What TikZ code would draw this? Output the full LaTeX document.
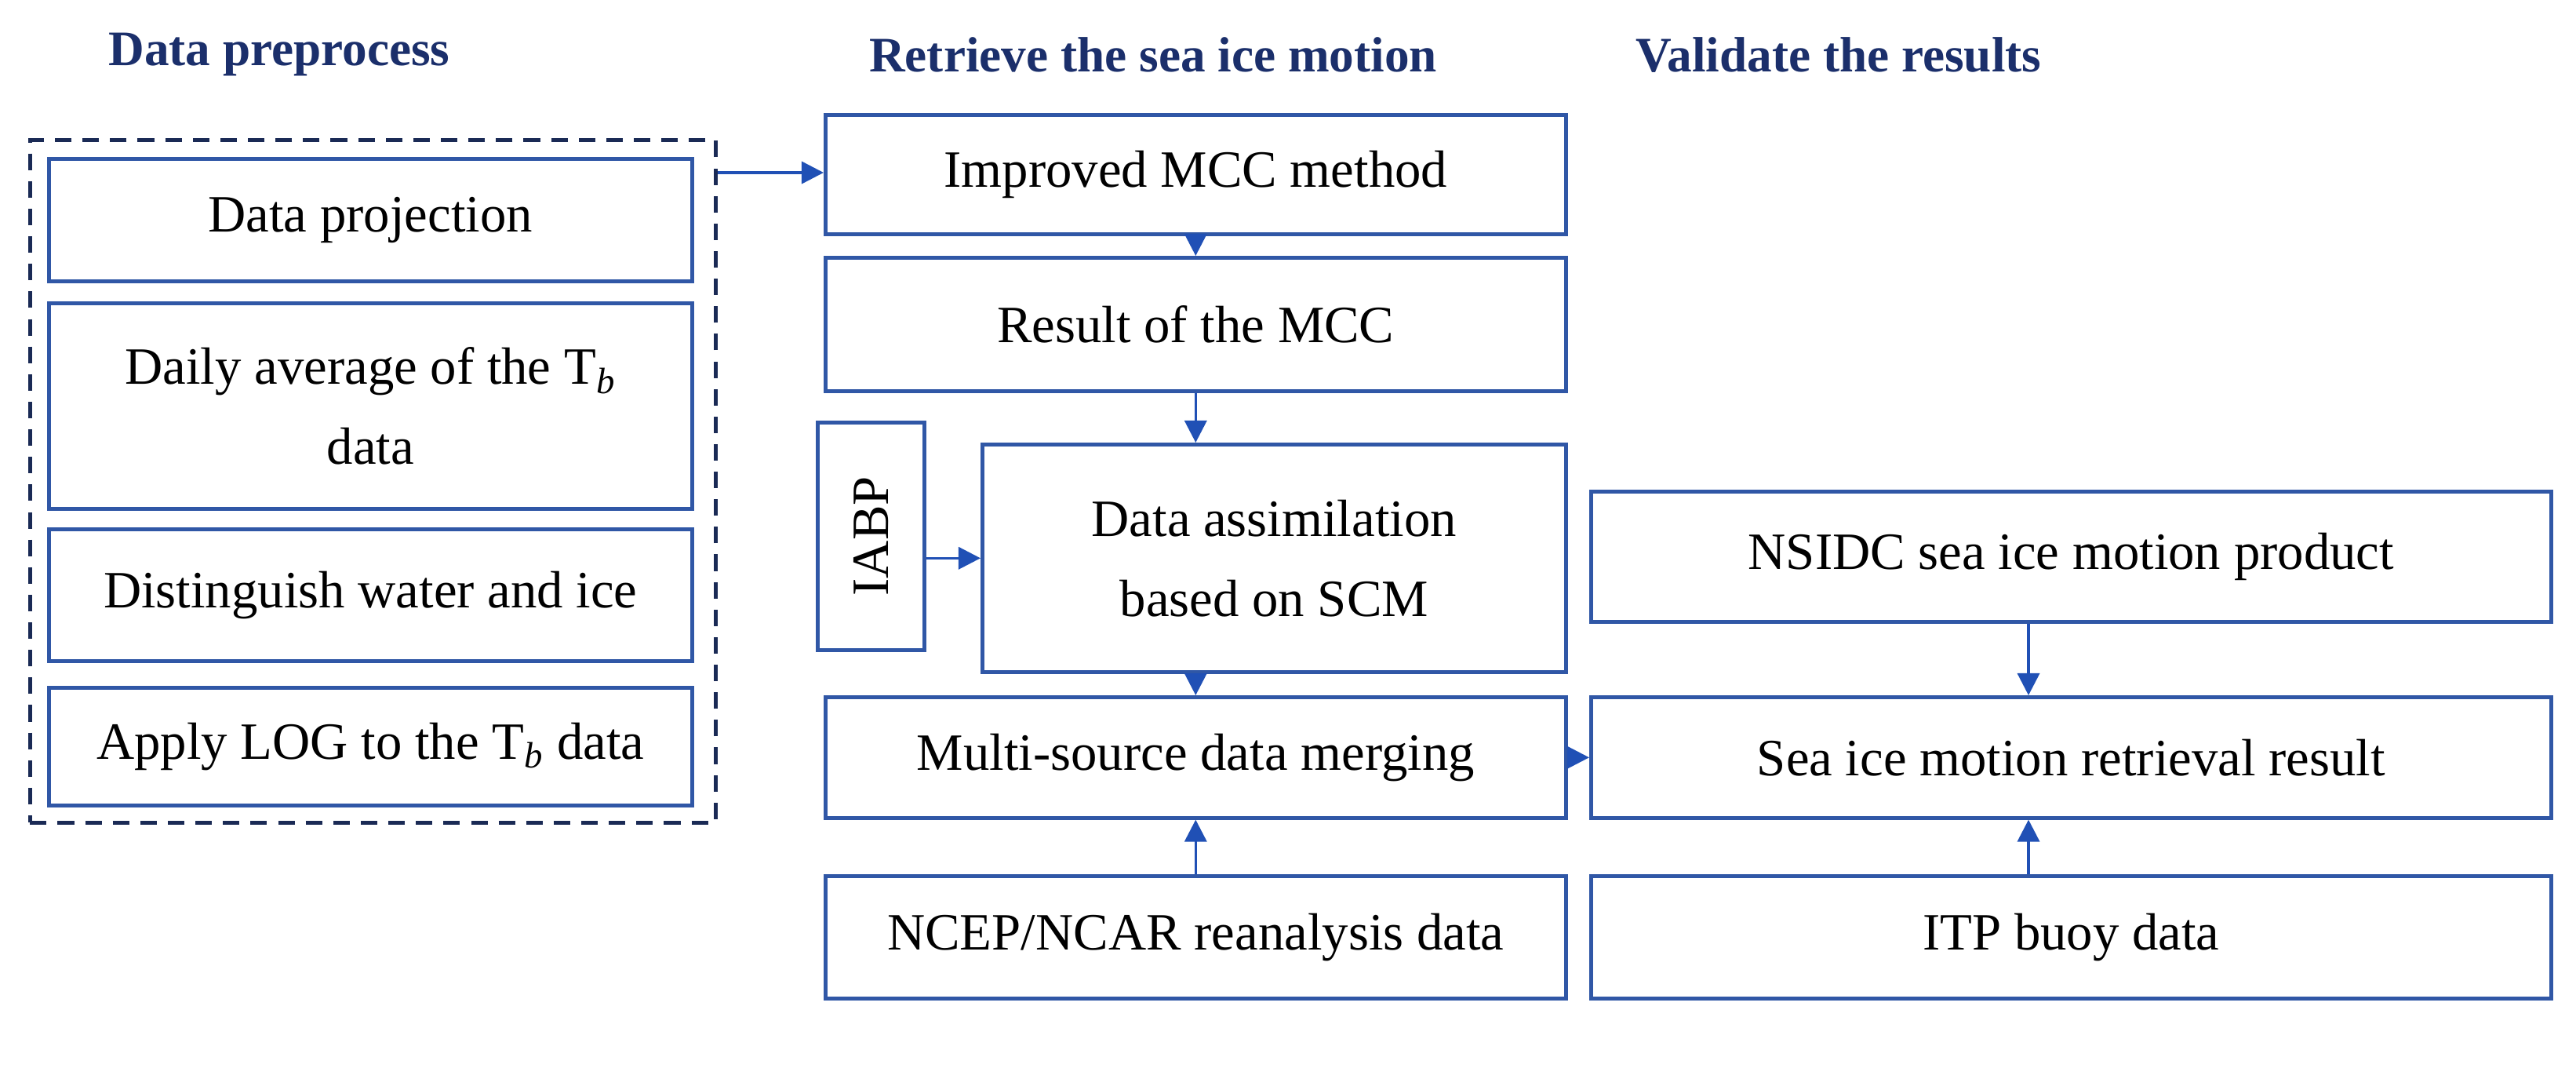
\documentclass[tikz,border=0pt]{standalone}
\usepackage{fontspec}
\setmainfont{Liberation Serif}
\usetikzlibrary{arrows.meta}
\definecolor{bx}{HTML}{3057A6}
\definecolor{ar}{HTML}{2050B5}
\definecolor{hd}{HTML}{1B2F6B}
\definecolor{dsh}{HTML}{1A2A55}
\begin{document}
\begin{tikzpicture}[x=0.02cm,y=-0.02cm,
 box/.style={draw=bx,line width=1.3pt,inner sep=0pt,align=center,font=\fontsize{19}{29}\selectfont},
 hdr/.style={font=\fontsize{18}{22}\selectfont\bfseries,text=hd},
 arr/.style={draw=ar,line width=1pt,-{Triangle[length=8pt,width=8pt]}}]
\useasboundingbox (0,0) rectangle (1642,687.5);
\node[hdr] (h1) at (178,35) {Data preprocess};
\node[hdr] (h2) at (735,35) {Retrieve the sea ice motion};
\node[hdr] (h3) at (1172,35) {Validate the results};
\node[draw=dsh,dashed,line width=1.3pt,dash pattern=on 6pt off 4pt,minimum width=437*0.02cm,minimum height=435*0.02cm,anchor=north west] (dbox) at (18,88) {};
\newcommand{\bxat}[6]{\node[box,minimum width=#4*0.02cm,minimum height=#5*0.02cm,anchor=north west] (#1) at (#2,#3) {#6};}
\bxat{p1}{30}{100}{410}{78}{Data projection}
\bxat{p2}{30}{192}{410}{131}{Daily average of the T\textsubscript{\itshape b}\\data}
\bxat{p3}{30}{336}{410}{84}{Distinguish water and ice}
\bxat{p4}{30}{437}{410}{75}{Apply LOG to the T\textsubscript{\itshape b} data}
\bxat{m1}{525}{72}{472}{76}{Improved MCC method}
\bxat{m2}{525}{163}{472}{85}{Result of the MCC}
\node[box,minimum width=68*0.02cm,minimum height=145*0.02cm,anchor=north west] (iabp) at (520,268) {};
\node[font=\fontsize{19}{24}\selectfont,rotate=90] (iabpt) at (iabp.center) {IABP};
\bxat{m3}{625}{282}{372}{145}{Data assimilation\\based on SCM}
\bxat{m4}{525}{443}{472}{77}{Multi-source data merging}
\bxat{m5}{525}{557}{472}{78}{NCEP/NCAR reanalysis data}
\bxat{r1}{1013}{312}{612}{83}{NSIDC sea ice motion product}
\bxat{r2}{1013}{443}{612}{77}{Sea ice motion retrieval result}
\bxat{r3}{1013}{557}{612}{78}{ITP buoy data}
\draw[arr] (dbox.east |- 0,110) -- (m1.west |- 0,110);
\draw[arr] (m1.south) -- (m2.north);
\draw[arr] (m2.south) -- (m2.south |- m3.north);
\draw[arr] (iabp.east |- m3.west) -- (m3.west);
\draw[arr] (m3.south -| m4.north) -- (m4.north);
\draw[arr] (m5.north) -- (m4.south);
\draw[arr] (m4.east) -- (r2.west);
\draw[arr] (r1.south -| 1293,0) -- (r2.north -| 1293,0);
\draw[arr] (r3.north -| 1293,0) -- (r2.south -| 1293,0);
\end{tikzpicture}
\end{document}
